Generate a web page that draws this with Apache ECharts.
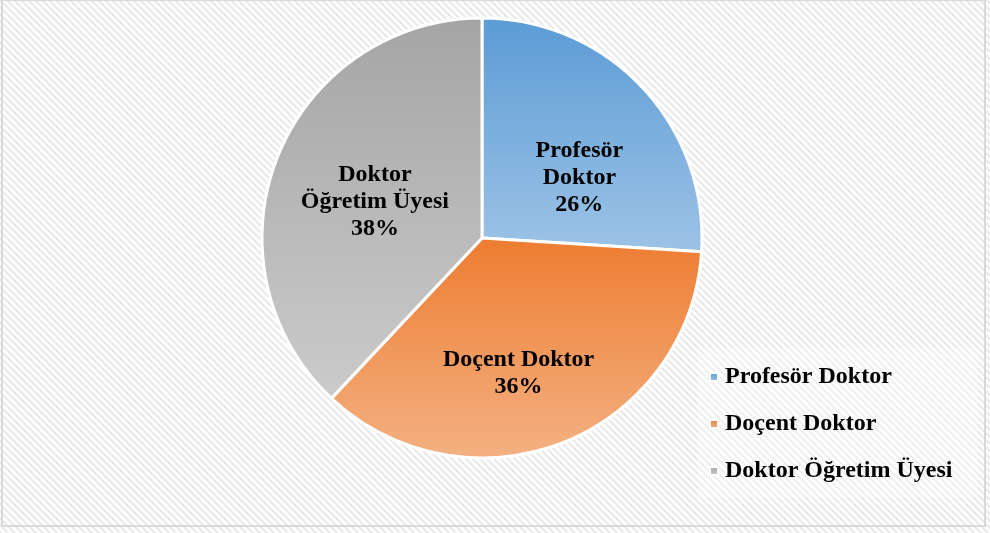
<!DOCTYPE html>
<html>
<head>
<meta charset="utf-8">
<script src="https://cdn.jsdelivr.net/npm/echarts@6/dist/echarts.min.js"></script>
<style>
  html, body { margin: 0; padding: 0; background: #fff; }
  #chart { width: 990px; height: 533px; }
</style>
</head>
<body>
<div id="chart"></div>
<script>
var categories = ['Profesör Doktor', 'Doçent Doktor', 'Doktor Öğretim Üyesi'];
var labelNames = ['Profesör\nDoktor', 'Doçent Doktor', 'Doktor\nÖğretim Üyesi'];
var values = [26, 36, 38];

var gradients = [
  ['#5b9bd5', '#9dc3e6'],
  ['#ed7d31', '#f4b183'],
  ['#a5a5a5', '#cbcbcb']
];
// nudge labels toward where the original puts them
var labelShift = [[15, 17], [-5, 30], [-2, 5]];

// diagonal hatch background
var tile = document.createElement('canvas');
tile.width = 7; tile.height = 7;
var ctx = tile.getContext('2d');
ctx.fillStyle = '#ffffff';
ctx.fillRect(0, 0, 7, 7);
ctx.strokeStyle = '#e9e9e9';
ctx.lineWidth = 2.2;
[-7, 0, 7].forEach(function (o) {
  ctx.beginPath();
  ctx.moveTo(o - 1, -1);
  ctx.lineTo(o + 8, 8);
  ctx.stroke();
});

var chart = echarts.init(document.getElementById('chart'));

var data = categories.map(function (name, i) {
  return {
    name: name,
    value: values[i],
    itemStyle: {
      color: new echarts.graphic.LinearGradient(0, 0, 0, 1, [
        { offset: 0, color: gradients[i][0] },
        { offset: 1, color: gradients[i][1] }
      ])
    }
  };
});

var font = '"Liberation Serif", "Times New Roman", serif';

chart.setOption({
  backgroundColor: { image: tile, repeat: 'repeat' },
  animation: false,
  graphic: [{
    type: 'rect',
    shape: { x: 2, y: 0, width: 983, height: 526 },
    style: { fill: 'none', stroke: '#d9d9d9', lineWidth: 2 },
    silent: true
  }, {
    type: 'rect',
    shape: { x: 698, y: 348, width: 280, height: 150 },
    style: { fill: 'rgba(255,255,255,0.3)' },
    silent: true
  }],
  legend: {
    orient: 'vertical',
    left: 709,
    top: 365,
    icon: 'rect',
    itemWidth: 8,
    itemHeight: 8,
    itemGap: 23,
    padding: [0, 0, 0, 0],
    textStyle: {
      fontFamily: font,
      fontWeight: 'bold',
      fontSize: 24,
      color: '#000',
      padding: [0, 0, 0, 2]
    },
    data: categories
  },
  series: [{
    type: 'pie',
    center: [482, 238],
    radius: [0, 220],
    startAngle: 90,
    clockwise: true,
    itemStyle: { borderColor: '#fff', borderWidth: 3 },
    label: {
      show: true,
      position: 'inside',
      fontFamily: font,
      fontWeight: 'bold',
      fontSize: 24,
      lineHeight: 27,
      color: '#000',
      formatter: function (p) {
        return labelNames[p.dataIndex] + '\n' + p.value + '%';
      }
    },
    labelLayout: function (p) {
      return { dx: labelShift[p.dataIndex][0], dy: labelShift[p.dataIndex][1] };
    },
    labelLine: { show: false },
    emphasis: { disabled: true },
    data: data
  }]
});
</script>
</body>
</html>
